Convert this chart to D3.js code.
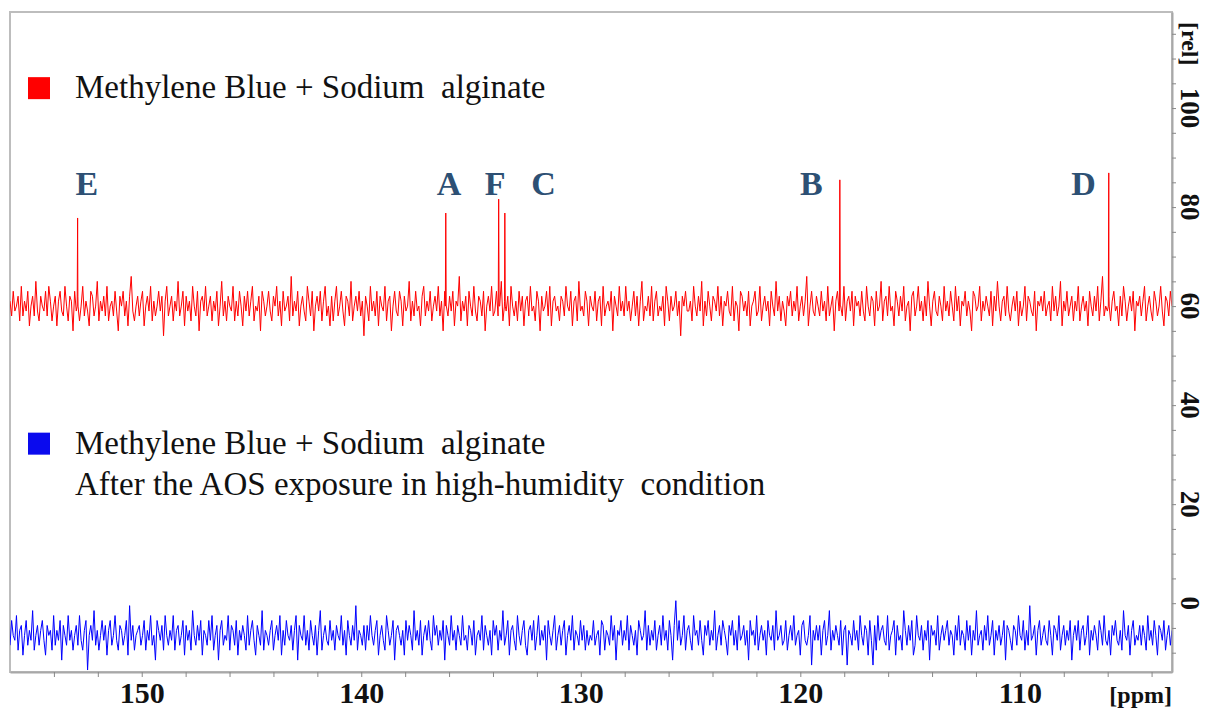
<!DOCTYPE html>
<html>
<head>
<meta charset="utf-8">
<script src="https://cdn.jsdelivr.net/npm/d3@7/dist/d3.min.js"></script>
<style>
  body { margin: 0; background: #fff; }
  svg { display: block; }
  .legend text { white-space: pre; }
</style>
</head>
<body>
<svg id="chart" width="1206" height="708"></svg>
<script>
// axis ranges and ticks
const ppmRange = [156.0, 103.07];
const relRange = [-13.9, 119.4];
const xMajorTicks = [150, 140, 130, 120, 110];
const yMajorTicks = [0, 20, 40, 60, 80, 100];

// baselines of the two spectra
const redBase = 60;
const blueBase = -6.5;

// noise (deviation from baseline, rel units)
const redNoise = [
  1,-2,3,-1,0,2,-3,4,-2,1,-1,3,-4,0,2,-2,5,-1,-3,2,
  0,-1,3,-2,4,1,-3,0,2,-4,1,3,-1,-2,4,0,-3,2,1,-5,
  3,-1,2,-3,0,4,-2,1,-1,-4,3,2,-2,0,5,-3,1,-1,2,-2,
  4,-3,0,1,-2,3,-1,-5,2,0,3,-2,1,-4,2,6,-1,-3,0,2,
  -2,1,3,-4,0,2,-1,4,-3,1,-2,0,3,-1,2,-6,1,4,-2,0,
  2,-3,1,-1,5,-2,0,3,-4,2,-1,1,-3,4,0,-2,3,-5,1,2,
  -1,4,-2,0,2,-3,1,-1,3,-4,0,5,-2,1,-3,2,0,-1,4,-3,
  1,-2,3,0,-4,2,-1,3,-2,1,4,-3,0,-1,2,-5,3,1,-2,0,
  3,-1,-3,2,0,4,-2,1,-4,3,-1,0,2,-3,6,-2,1,-1,3,-4,
  0,2,-1,-3,4,1,-2,3,-5,0,2,-1,3,-3,1,4,-2,0,-4,2,
  -3,1,4,-2,0,3,-1,-4,2,1,-2,5,-3,0,2,-1,3,-2,1,-6,
  2,0,-3,4,-1,1,-2,3,-4,2,0,-1,4,-3,1,2,-5,0,3,-1,
  -2,3,1,-4,2,-1,0,5,-3,1,-2,3,-1,0,-4,2,4,-2,1,-1,
  3,-3,0,2,-1,4,-2,1,-5,3,0,-2,2,-1,3,-4,1,0,6,-3,
  1,-1,2,-4,3,0,-2,4,-1,-3,2,1,-2,3,-5,0,2,-1,4,-2,
  -1,3,-2,0,5,-3,1,-1,2,-4,4,0,-2,1,-3,3,-1,2,-4,1,
  2,-2,4,-1,0,-3,3,1,-5,2,-1,0,3,-2,4,-4,1,2,-1,0,
  -3,2,1,-2,4,0,-1,3,-4,1,2,-3,5,-1,0,-2,3,1,-4,2,
  0,-1,3,-3,1,2,-4,4,-2,0,1,-1,3,-5,2,0,-2,4,-1,1,
  -2,4,-1,1,-3,0,3,-2,2,-4,1,5,-3,0,-1,2,-2,4,-3,1,
  3,-2,0,-1,2,-4,4,1,-3,2,-1,0,3,-2,1,-6,2,0,3,-1,
  -1,1,-3,4,0,-2,2,-1,5,-4,1,-2,3,0,-3,2,1,-1,4,-2,
  2,-4,1,0,3,-1,-2,4,-3,1,0,-5,3,2,-1,1,-2,3,-4,0,
  1,3,-2,-1,4,-3,0,2,-1,1,-4,3,0,-2,5,-1,2,-3,1,-1,
  -4,2,0,3,-2,1,-1,4,-3,0,2,-2,1,6,-4,0,3,-1,-2,2,
  0,-2,3,-1,1,-3,4,-2,0,2,-5,1,3,-1,0,-2,4,-3,1,2,
  -1,3,-4,2,0,1,-2,3,-1,-3,4,0,-2,2,1,-4,3,-1,0,5,
  -3,1,2,-2,4,-1,0,-4,3,1,-2,2,-1,4,-3,0,1,-5,2,3,
  -2,0,4,-1,1,-3,2,-2,5,0,-4,1,3,-1,-2,2,0,-3,4,-1,
  1,-2,3,0,-3,4,-1,2,-4,1,0,3,-2,1,-1,-5,3,2,-1,0,
  4,-3,1,-1,2,0,-2,3,-4,2,-1,5,0,-3,1,2,-2,4,-1,-3,
  0,2,-1,3,-4,1,-2,0,4,-3,2,1,-1,-2,3,-5,1,0,2,-1,
  3,-2,0,1,-3,4,-1,2,-2,0,5,-4,1,-1,3,-2,0,2,-3,1,
  -1,4,-3,0,2,-1,1,-4,3,0,-2,2,-1,4,-3,1,6,-2,0,-1,
  2,-3,1,3,-1,0,-4,2,-2,4,1,-3,0,2,-1,3,-5,1,0,2,
  -2,1,4,-3,0,2,-1,-3,3,1,-2,0,4,-1,-4,2,1,-2,3,0
];
const blueNoise = [
  -2,3,0,-1,4,-3,1,2,-4,0,3,-2,1,-1,5,-3,0,2,-2,1,
  3,-1,-4,2,0,1,-3,4,-2,1,-1,3,-5,2,0,-2,4,-1,1,-3,
  0,2,-2,4,-1,-3,1,3,-7,0,2,-1,5,-2,1,-3,0,3,-1,2,
  -4,1,3,-2,0,4,-1,-3,2,1,-2,0,3,-4,6,-1,2,-3,0,1,
  2,-2,0,3,-3,1,-1,4,-2,0,-5,3,1,-1,2,-3,4,0,-2,1,
  -1,4,-3,1,2,-2,0,3,-4,2,-1,1,-3,5,0,-2,2,-1,3,-4,
  1,0,-2,3,-1,4,-3,0,2,-5,1,3,-2,0,-1,4,-3,2,1,-2,
  3,-4,1,-1,2,0,-3,4,-2,1,3,-1,-4,2,0,-2,5,-3,1,0,
  -2,1,3,-3,0,2,-1,4,-4,1,-2,3,0,-1,2,-3,1,4,-5,2,
  0,-1,4,-2,1,-3,3,0,-2,2,-4,1,5,-3,0,2,-1,-2,3,-1,
  1,-3,2,0,-1,4,-2,1,-4,3,0,-2,2,-1,6,-3,1,0,-2,2,
  -3,2,-1,4,0,-2,1,3,-4,0,2,-1,-3,4,1,-2,0,3,-5,1,
  2,0,-2,1,-4,3,-1,2,0,-3,5,-1,1,-2,3,-4,0,2,-1,3,
  -1,-3,4,0,2,-2,1,-1,3,-5,2,0,-2,4,-1,1,-3,2,0,-2,
  4,-1,0,-3,2,1,-2,3,-4,0,1,-1,4,-3,2,0,-2,1,-4,3,
  0,2,-3,1,-1,5,-2,0,3,-4,1,2,-1,-3,4,0,-2,1,3,-2,
  -4,1,2,-1,3,-3,0,4,-2,1,-1,2,-5,3,0,-2,1,4,-3,0,
  2,-2,1,3,-4,0,2,-1,4,-3,1,0,-2,3,-1,2,-3,1,-2,0,
  -1,3,-2,0,1,-4,3,2,-3,1,0,-2,4,-1,2,-5,1,0,3,-2,
  1,-1,4,-3,2,0,-2,1,-4,3,1,-1,0,5,-3,2,-2,1,-1,3,
  -3,0,2,-2,4,-1,1,-3,3,0,-5,2,7,-1,3,-2,0,4,-3,1,
  2,-1,-3,4,0,1,-2,3,-1,-4,2,0,3,-2,1,-1,5,-3,0,2,
  -2,3,1,-1,-4,2,0,3,-2,1,-3,4,-1,0,2,-2,1,-5,3,0,
  1,-2,4,-3,0,2,-1,1,-4,3,0,-1,2,-3,5,-1,0,2,-2,-1,
  3,-3,0,2,-1,4,-2,0,1,-4,2,3,-1,-2,0,4,-6,1,-1,2,
  -1,2,-4,1,3,-2,0,5,-3,1,-1,2,0,-2,3,-4,1,2,-6,1,
  0,-2,3,-1,1,-3,4,0,-2,2,1,-4,3,-1,-6,2,-3,4,-1,1,
  2,-1,-2,4,-3,0,1,3,-4,2,-1,0,-3,5,1,-2,2,-1,3,-4,
  -2,4,0,-1,2,-3,1,-1,3,-5,2,0,1,-2,4,-3,0,2,-1,1,
  3,-2,1,0,-4,2,-1,4,-2,1,0,-3,3,-1,2,-4,1,-1,5,-2,
  0,1,-3,2,-1,4,-2,0,3,-4,1,-1,2,-2,0,3,-5,2,1,-1,
  -3,2,1,-2,4,0,-1,3,-3,1,-2,6,-1,0,2,-4,1,3,-2,0,
  2,-1,-2,3,0,-4,2,1,-1,4,-3,0,2,-2,1,-1,3,-5,0,2,
  -1,3,-3,1,2,-2,0,4,-4,1,-1,2,0,-3,3,1,-2,4,-1,-2,
  1,-4,2,0,3,-1,-2,1,-3,5,0,-1,2,-4,1,3,-2,0,-1,2,
  -2,2,0,-3,4,-1,1,-2,3,0,-4,2,1,-1,3,-3,0,2,-2,1
];

// peaks of the red spectrum
const peakNames = ["E", "A", "F", "C", "B", "D"];
const peakPpm = [152.92, 136.15, 133.74, 133.46, 118.20, 105.95];
const peakTop = [77.8, 78.8, 81.6, 78.8, 85.5, 86.9];
const labelPpm = [152.5, 136.0, 133.9, 131.7, 119.5, 107.1];
const labelRel = 82.5;

const legendLines = [
  ["Methylene Blue + Sodium  alginate"],
  ["Methylene Blue + Sodium  alginate", "After the AOS exposure in high-humidity  condition"]
];
const legendColors = ["#ff0000", "#0a0aee"];
const legendRel = [102.0, 30.2];

const svg = d3.select("#chart");
const margin = { top: 12, right: 34, bottom: 36, left: 10 };
const W = 1206, H = 708;
const x = d3.scaleLinear().domain(ppmRange).range([margin.left, W - margin.right]);
const y = d3.scaleLinear().domain(relRange).range([H - margin.bottom, margin.top]);

const serif = "'Liberation Serif', 'Times New Roman', serif";
const frameColor = "#a8a8a8";

// spectrum points: noise on the ppm grid, plus the peaks
function buildSeries(noise, base, peaks) {
  const step = (ppmRange[0] - ppmRange[1]) / (noise.length - 1);
  const pts = noise.map((v, i) => [ppmRange[0] - i * step, base + v]);
  peaks.forEach(p => {
    pts.push([p.ppm + 0.02, base], [p.ppm, p.top], [p.ppm - 0.02, base]);
  });
  return pts.sort((a, b) => b[0] - a[0]);
}

const peaks = peakPpm.map((p, i) => ({ ppm: p, top: peakTop[i] }));
const redSeries = buildSeries(redNoise, redBase, peaks);
const blueSeries = buildSeries(blueNoise, blueBase, []);

svg.append("defs").append("clipPath").attr("id", "plot-clip")
  .append("rect")
  .attr("x", margin.left).attr("y", margin.top)
  .attr("width", W - margin.left - margin.right)
  .attr("height", H - margin.top - margin.bottom);

// frame
svg.append("rect")
  .attr("x", margin.left).attr("y", margin.top)
  .attr("width", W - margin.left - margin.right)
  .attr("height", H - margin.top - margin.bottom)
  .attr("fill", "none")
  .attr("stroke", "#bdbdbd")
  .attr("stroke-width", 2);

const line = d3.line().x(d => x(d[0])).y(d => y(d[1]));

const plot = svg.append("g").attr("clip-path", "url(#plot-clip)");
plot.append("path").datum(blueSeries)
  .attr("d", line).attr("fill", "none")
  .attr("stroke", "#0000ff").attr("stroke-width", 1);
plot.append("path").datum(redSeries)
  .attr("d", line).attr("fill", "none")
  .attr("stroke", "#ff0000").attr("stroke-width", 1);

// bottom axis: minor ticks every 2 ppm, labels every 10
const xAxis = svg.append("g")
  .attr("transform", `translate(0,${H - margin.bottom})`)
  .call(d3.axisBottom(x)
    .tickValues(d3.range(104, 156, 2))
    .tickSize(5).tickSizeOuter(0).tickPadding(5)
    .tickFormat(d => xMajorTicks.includes(d) ? d : ""));
xAxis.select(".domain").attr("stroke", frameColor).attr("stroke-width", 2);
xAxis.selectAll(".tick line").attr("stroke", "#888");
xAxis.selectAll(".tick text")
  .attr("font-family", serif).attr("font-size", 30)
  .attr("font-weight", "bold").attr("fill", "#111");

svg.append("text")
  .attr("x", W - margin.right).attr("y", H - 5)
  .attr("text-anchor", "end")
  .attr("font-family", serif).attr("font-size", 24)
  .attr("font-weight", "bold").attr("fill", "#111")
  .text("[ppm]");

// right axis: ticks every 5, rotated labels every 20
const yAxis = svg.append("g")
  .attr("transform", `translate(${W - margin.right},0)`)
  .call(d3.axisRight(y)
    .tickValues(d3.range(-10, 120, 5))
    .tickSize(4).tickSizeOuter(0)
    .tickFormat(""));
yAxis.select(".domain").attr("stroke", frameColor).attr("stroke-width", 2);
yAxis.selectAll(".tick line").attr("stroke", "#888");

svg.append("g").selectAll("text")
  .data(yMajorTicks)
  .join("text")
  .attr("transform", d => `translate(${W - margin.right + 18},${y(d)}) rotate(90)`)
  .attr("text-anchor", "middle")
  .attr("dy", "0.35em")
  .attr("font-family", serif).attr("font-size", 27)
  .attr("font-weight", "bold").attr("fill", "#111")
  .text(d => d);

svg.append("text")
  .attr("transform", `translate(${W - margin.right + 18},${y(113)}) rotate(90)`)
  .attr("text-anchor", "middle")
  .attr("dy", "0.35em")
  .attr("font-family", serif).attr("font-size", 24)
  .attr("font-weight", "bold").attr("fill", "#111")
  .text("[rel]");

// peak letters
svg.append("g").selectAll("text")
  .data(peakNames)
  .join("text")
  .attr("x", (d, i) => x(labelPpm[i]))
  .attr("y", y(labelRel))
  .attr("text-anchor", "middle")
  .attr("font-family", serif).attr("font-size", 34)
  .attr("font-weight", "bold").attr("fill", "#2d5074")
  .text(d => d);

// legends
legendLines.forEach((lines, i) => {
  const g = svg.append("g")
    .attr("class", "legend")
    .attr("transform", `translate(28,${y(legendRel[i])})`);
  g.append("rect")
    .attr("x", 0).attr("y", -21)
    .attr("width", 22).attr("height", 22)
    .attr("fill", legendColors[i]);
  lines.forEach((t, j) => {
    g.append("text")
      .attr("x", 47).attr("y", j * 41)
      .attr("font-family", serif).attr("font-size", 33)
      .attr("fill", "#111")
      .text(t);
  });
});
</script>
</body>
</html>
